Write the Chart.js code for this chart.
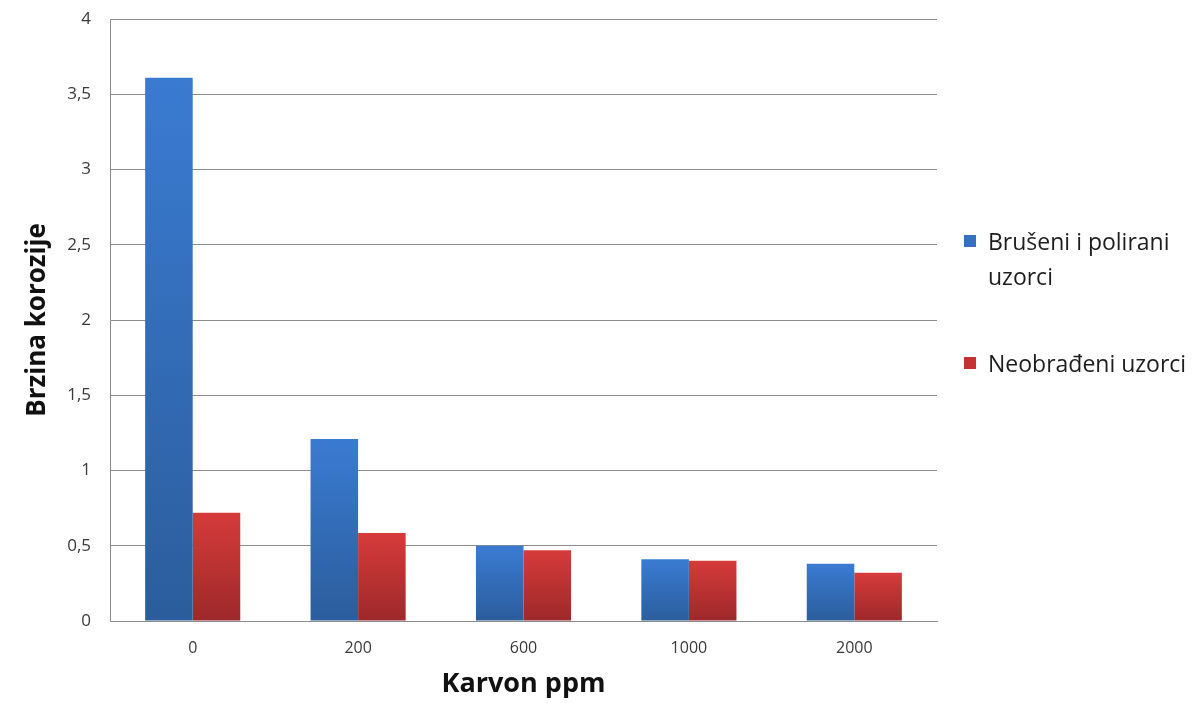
<!DOCTYPE html>
<html>
<head>
<meta charset="utf-8">
<script src="https://cdn.jsdelivr.net/npm/chart.js@4.4.1/dist/chart.umd.min.js"></script>
<style>
    html, body { margin: 0; padding: 0; background: #fff; }
    #wrap { position: relative; width: 1192px; height: 703px; }
    #legend { position: absolute; left: 964px; top: 224px; font-family: "Open Sans", sans-serif; font-size: 23px; color: #1e1e1e; }
    .item { position: relative; padding-left: 24px; line-height: 35px; }
    .item span.box { position: absolute; left: 0; top: 11px; width: 12px; height: 12px; }
</style>
</head>
<body>
<div id="wrap">
    <canvas id="grafico" width="1192" height="703"></canvas>
    <div id="legend"></div>
</div>
<script>
// Dados
var categorias = ["0", "200", "600", "1000", "2000"];
var nomesSeries = ["Brušeni i polirani uzorci", "Neobrađeni uzorci"];
var valoresPolirani = [3.61, 1.21, 0.50, 0.41, 0.38];
var valoresNeobradjeni = [0.72, 0.585, 0.47, 0.40, 0.32];
var cores = [
    { topo: "#3a7bd2", base: "#2b5d9c", legenda: "#3670c0" },
    { topo: "#d63b3a", base: "#9e282a", legenda: "#c63232" }
];

// Gradiente por barra (mais claro em cima)
function gradiente(idx) {
    return function (ctx) {
        var chart = ctx.chart;
        if (!chart.chartArea || ctx.type !== "data") return cores[idx].legenda;
        var y = chart.scales.y;
        var topo = y.getPixelForValue(ctx.raw);
        var base = y.getPixelForValue(0);
        var g = chart.ctx.createLinearGradient(0, topo, 0, base);
        g.addColorStop(0, cores[idx].topo);
        g.addColorStop(1, cores[idx].base);
        return g;
    };
}

var fonte = "'Open Sans', sans-serif";

new Chart(document.getElementById("grafico"), {
    type: "bar",
    data: {
        labels: categorias,
        datasets: [
            { label: nomesSeries[0], data: valoresPolirani, backgroundColor: gradiente(0), borderWidth: 0 },
            { label: nomesSeries[1], data: valoresNeobradjeni, backgroundColor: gradiente(1), borderWidth: 0 }
        ]
    },
    options: {
        responsive: false,
        animation: false,
        layout: { padding: { left: 0, right: 255, top: 19, bottom: 0 } },
        plugins: { legend: { display: false }, tooltip: { enabled: false } },
        datasets: { bar: { categoryPercentage: 0.575, barPercentage: 1 } },
        scales: {
            x: {
                grid: { display: false, drawTicks: false },
                border: { color: "#8c8c8c" },
                ticks: { color: "#3a3a3a", font: { family: fonte, size: 16 }, padding: 18 },
                title: { display: true, text: "Karvon ppm", color: "#111", font: { family: fonte, size: 27, weight: "bold" }, padding: { top: 0, bottom: 2 } },
                afterFit: function (s) { s.height = 82; s.paddingLeft = 0; s.paddingRight = 0; }
            },
            y: {
                min: 0, max: 4,
                ticks: {
                    stepSize: 0.5, color: "#3a3a3a", font: { family: fonte, size: 17 }, padding: 19,
                    callback: function (v) { return String(v).replace(".", ","); }
                },
                grid: { color: "#8c8c8c", drawTicks: false },
                border: { color: "#8c8c8c" },
                title: { display: true, text: "Brzina korozije", color: "#111", font: { family: fonte, size: 26, weight: "bold" }, padding: { top: 22, bottom: 0 } },
                afterFit: function (s) { s.width = 110; s.paddingTop = 0; s.paddingBottom = 0; }
            }
        }
    }
});

// Legenda em HTML (permite quebra de linha)
var legenda = document.getElementById("legend");
var linhas = [["Brušeni i polirani", "uzorci"], ["Neobrađeni uzorci"]];
nomesSeries.forEach(function (nome, i) {
    var d = document.createElement("div");
    d.className = "item";
    d.style.marginBottom = i === 0 ? "52px" : "0";
    d.innerHTML = '<span class="box" style="background:' + cores[i].legenda + '"></span>' + linhas[i].join("<br>");
    legenda.appendChild(d);
});
</script>
</body>
</html>
